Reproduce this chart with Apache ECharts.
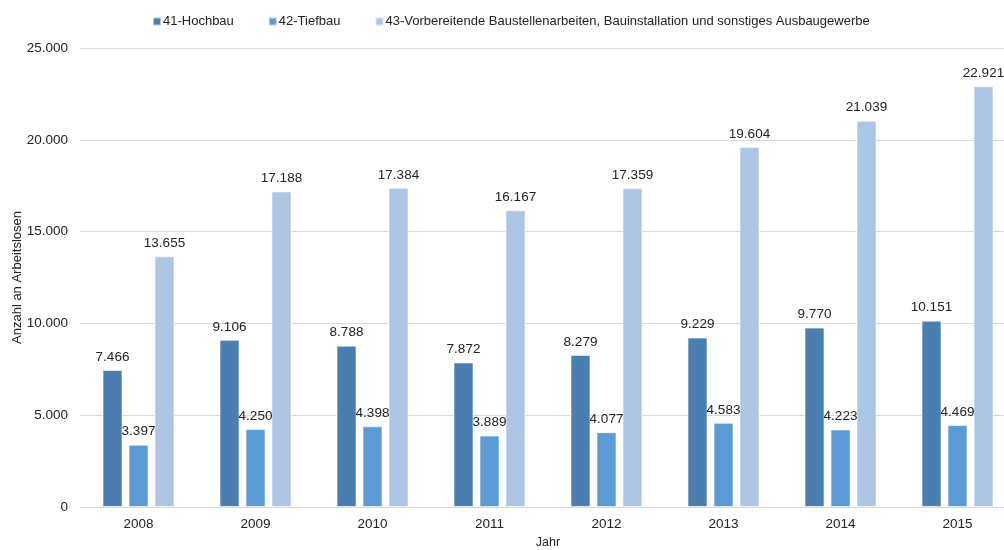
<!DOCTYPE html>
<html>
<head>
<meta charset="utf-8">
<script src="https://cdn.jsdelivr.net/npm/echarts@6/dist/echarts.min.js"></script>
<style>
  html, body { margin: 0; padding: 0; background: #fff; }
  #chart { width: 1004px; height: 550px; }
</style>
</head>
<body>
<div id="chart"></div>
<script>
// Arbeitslose im Baugewerbe nach Wirtschaftszweig, 2008–2015
const years = ['2008', '2009', '2010', '2011', '2012', '2013', '2014', '2015'];
const hochbau = [7466, 9106, 8788, 7872, 8279, 9229, 9770, 10151];
const tiefbau = [3397, 4250, 4398, 3889, 4077, 4583, 4223, 4469];
const ausbau = [13655, 17188, 17384, 16167, 17359, 19604, 21039, 22921];
const seriesNames = [
  '41-Hochbau',
  '42-Tiefbau',
  '43-Vorbereitende Baustellenarbeiten, Bauinstallation und sonstiges Ausbaugewerbe'
];
const colors = ['#4a7eb0', '#5b9bd5', '#adc6e5'];

const fmt = v => String(v).replace(/\B(?=(\d{3})+(?!\d))/g, '.');
const font = 'Liberation Sans, Arial, sans-serif';

function barSeries(name, data, color) {
  return {
    name: name,
    type: 'bar',
    data: data,
    barWidth: 20,
    barGap: '30%',
    itemStyle: { color: color, borderColor: 'rgba(255,255,255,0.6)', borderWidth: 1 },
    label: {
      show: true,
      position: 'top',
      distance: 6,
      color: '#222',
      fontFamily: font,
      fontSize: 13.5,
      formatter: p => fmt(p.value)
    }
  };
}

const chart = echarts.init(document.getElementById('chart'), null, { renderer: 'canvas' });
chart.setOption({
  animation: false,
  color: colors,
  textStyle: { fontFamily: font },
  legend: {
    top: 10,
    left: 147,
    itemWidth: 8,
    itemHeight: 8,
    itemGap: 34,
    icon: 'rect',
    textStyle: { fontSize: 13, color: '#222', fontFamily: font, padding: [0, 0, 0, -3] },
    data: seriesNames
  },
  // the plot area runs a little past the right edge of the canvas
  grid: { left: 80, width: 936, top: 48, bottom: 43, outerBoundsMode: 'none', containLabel: false },
  xAxis: {
    type: 'category',
    data: years,
    name: 'Jahr',
    nameLocation: 'middle',
    nameGap: 29,
    nameMoveOverlap: false,
    nameTextStyle: { fontSize: 12.5, color: '#222', fontFamily: font },
    axisLine: { lineStyle: { color: '#d9d9d9' } },
    axisTick: { show: false },
    axisLabel: { fontSize: 13.5, color: '#222', margin: 10, fontFamily: font }
  },
  yAxis: {
    type: 'value',
    min: 0,
    max: 25000,
    interval: 5000,
    name: 'Anzahl an Arbeitslosen',
    nameLocation: 'middle',
    nameGap: 56,
    nameMoveOverlap: false,
    nameTextStyle: { fontSize: 13, color: '#222', fontFamily: font },
    axisLine: { show: false },
    axisTick: { show: false },
    splitLine: { lineStyle: { color: '#d9d9d9' } },
    axisLabel: { fontSize: 13.5, color: '#222', margin: 12, fontFamily: font, formatter: v => fmt(v) }
  },
  series: [
    barSeries(seriesNames[0], hochbau, colors[0]),
    barSeries(seriesNames[1], tiefbau, colors[1]),
    barSeries(seriesNames[2], ausbau, colors[2])
  ]
});
</script>
</body>
</html>
